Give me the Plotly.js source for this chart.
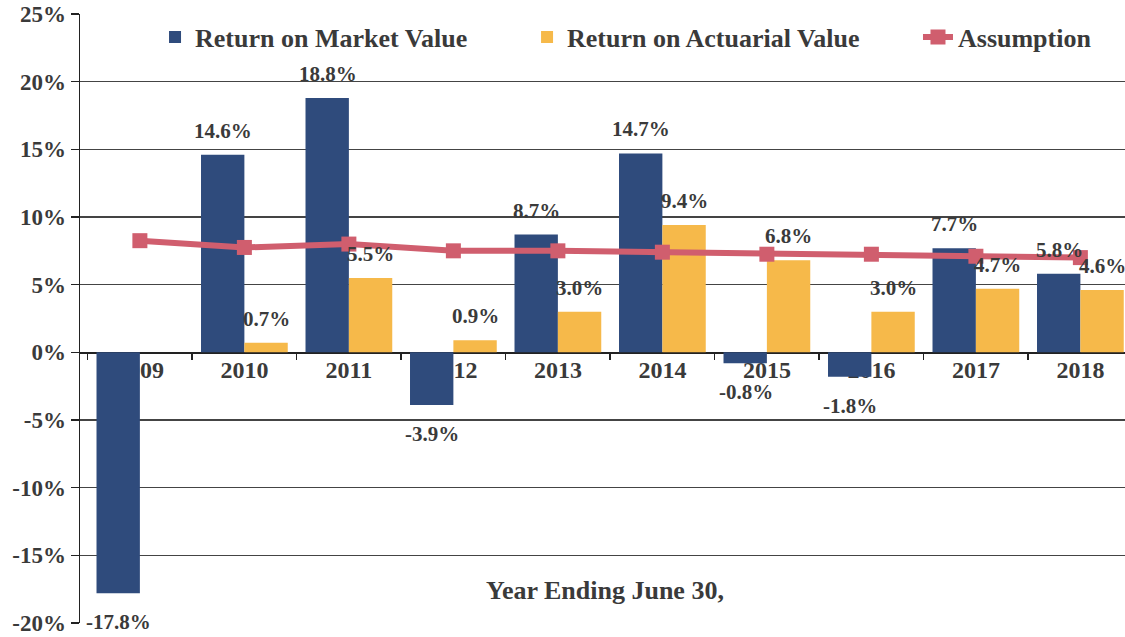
<!DOCTYPE html>
<html>
<head>
<meta charset="utf-8">
<script src="https://cdn.plot.ly/plotly-3.0.1.min.js"></script>
<style>html,body{margin:0;padding:0;background:#fff;}#chart{width:1125px;height:637px;}</style>
</head>
<body>
<div id="chart"></div>
<script>
const years = ['2009','2010','2011','2012','2013','2014','2015','2016','2017','2018'];
const marketReturn = [-17.8, 14.6, 18.8, -3.9, 8.7, 14.7, -0.8, -1.8, 7.7, 5.8];
const actuarialReturn = [null, 0.7, 5.5, 0.9, 3.0, 9.4, 6.8, 3.0, 4.7, 4.6];
const assumption = [8.25, 7.75, 8.0, 7.5, 7.5, 7.4, 7.25, 7.25, 7.1, 7.0];
const yTicks = [-20, -15, -10, -5, 0, 5, 10, 15, 20, 25];

const serif = 'Liberation Serif, Times New Roman, serif';
const textColor = '#3a3a3a';
const blue = '#2f4b7c';
const orange = '#f6b94a';
const red = '#d05e6e';

const traces = [
  {type:'bar', name:'Return on Market Value', x:years, y:marketReturn,
   marker:{color:blue}, hoverinfo:'skip', legend:'legend'},
  {type:'bar', name:'Return on Actuarial Value', x:years, y:actuarialReturn,
   marker:{color:orange}, hoverinfo:'skip', legend:'legend2'},
  {type:'scatter', mode:'lines+markers', name:'Assumption', x:years, y:assumption,
   line:{color:red, width:6}, marker:{color:red, size:15, symbol:'square'}, hoverinfo:'skip', legend:'legend3'}
];

const labelFont = {family:serif, size:21, color:textColor, weight:'bold'};
const annotations = [];
function addLabels(vals, xshift) {
  vals.forEach((v, i) => {
    if (v === null || v === undefined) return;
    annotations.push({x:i, y:v, xref:'x', yref:'y', text:v.toFixed(1)+'%',
      showarrow:false, xshift:xshift, yshift: v >= 0 ? 24 : -29, yanchor:'middle', xanchor:'center',
      font:labelFont});
  });
}
addLabels(marketReturn, -21);
addLabels(actuarialReturn, 22);
annotations.push({xref:'paper', yref:'paper', x:0.502, y:0.054, text:'Year Ending June 30,',
  showarrow:false, xanchor:'center', yanchor:'middle',
  font:{family:serif, size:26, color:textColor, weight:'bold'}});

const legendFont = {family:serif, size:26, color:textColor, weight:'bold'};
function legendAt(x) {
  return {orientation:'h', x:x, xanchor:'left', y:0.962, yanchor:'middle',
    bgcolor:'rgba(0,0,0,0)', font:legendFont};
}

const layout = {
  width:1125, height:637,
  margin:{l:80, r:0, t:14, b:14},
  paper_bgcolor:'#fff', plot_bgcolor:'#fff',
  barmode:'group', bargap:0.17, bargroupgap:0,
  showlegend:true,
  legend:legendAt(0.0718),
  legend2:legendAt(0.4278),
  legend3:legendAt(0.8019),
  xaxis:{type:'category', range:[-0.573, 9.427], anchor:'free', position:20/45,
    showline:true, linecolor:'#222', linewidth:1.5,
    ticks:'outside', tickson:'boundaries', ticklen:6, tickcolor:'#222', tickwidth:1.5,
    ticklabelstandoff:-5,
    showgrid:false, layer:'below traces',
    tickfont:{family:serif, size:24, color:textColor, weight:'bold'}},
  yaxis:{range:[-20, 25], tickvals:yTicks, ticktext:yTicks.map(v=>v+'%'),
    showline:true, linecolor:'#222', linewidth:1.5,
    ticks:'outside', ticklen:8, tickcolor:'#222', tickwidth:1.5,
    showgrid:true, gridcolor:'#444', gridwidth:1.4, zeroline:false,
    tickfont:{family:serif, size:23, color:textColor, weight:'bold'}},
  annotations:annotations
};

Plotly.newPlot('chart', traces, layout, {staticPlot:true, displayModeBar:false});
</script>
</body>
</html>
